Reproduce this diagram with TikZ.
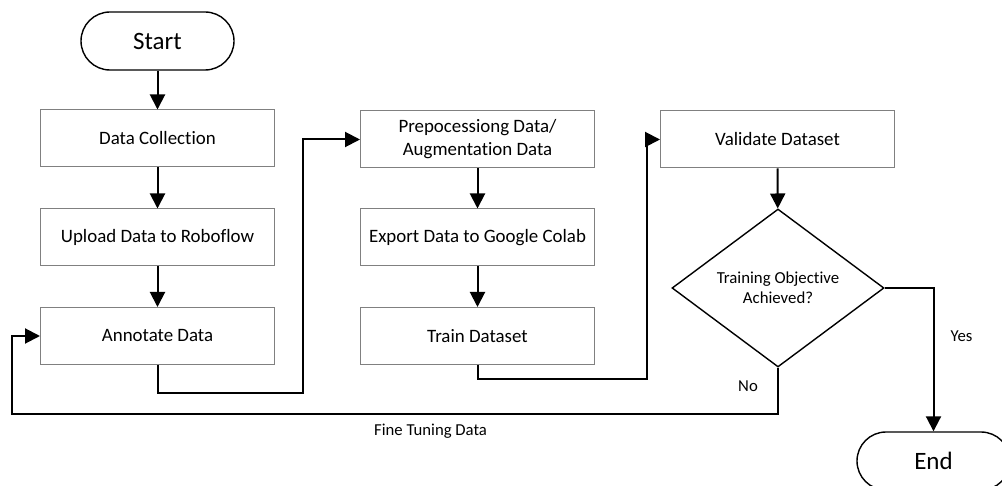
\documentclass[tikz,border=0pt]{standalone}
\usepackage{fontspec}
\setmainfont{Carlito}[Ligatures=NoCommon]
\usetikzlibrary{arrows.meta,shapes.geometric}
\begin{document}
\begin{tikzpicture}[x=1pt,y=-1pt,
  terminal/.style={draw=black,line width=1.4pt,rounded corners=29pt,
    minimum width=153pt,minimum height=58pt,inner sep=0pt,
    font=\fontsize{25}{30}\selectfont},
  stepbox/.style={draw=black!50,line width=1pt,minimum width=234pt,
    minimum height=57pt,inner sep=0pt,align=center,
    font=\fontsize{18.9}{23}\selectfont},
  decision/.style={diamond,draw=black,line width=1.4pt,minimum width=212pt,
    minimum height=158pt,inner sep=0pt,align=center,
    font=\fontsize{16.8}{20}\selectfont},
  lbl/.style={inner sep=0pt,font=\fontsize{16.7}{20}\selectfont},
  flow/.style={line width=2pt,-{Triangle[width=15pt,length=15pt]}},
]
\useasboundingbox (0,0) rectangle (1002,486);
\clip (0,0) rectangle (1002,486);
\fill[white] (0,0) rectangle (1002,486);

% process steps
\node[terminal] (start) at (157.5,41) {Start};
\node[stepbox] (dc) at (157.5,138.5) {Data Collection};
\node[stepbox] (up) at (157.5,237.5) {Upload Data to Roboflow};
\node[stepbox] (an) at (157.5,336) {Annotate Data};
\node[stepbox] (pre) at (477.5,139.5) {Prepocessiong Data/\\Augmentation Data};
\node[stepbox] (ex) at (477.5,237.5) {Export Data to Google Colab};
\node[stepbox] (tr) at (477.5,336) {Train Dataset};
\node[stepbox] (va) at (777.5,139.5) {Validate Dataset};
\node[decision] (dec) at (778,288) {Training Objective\\Achieved?};
\node[terminal] (end) at (933.5,461) {End};

% bends of the routed connectors
\coordinate (j1) at (303,393);
\coordinate (j2) at (647,379);
\coordinate (j3) at (12,414);

% connectors
\draw[flow] (start) -- (dc);
\draw[flow] (dc) -- (up);
\draw[flow] (up) -- (an);
\draw[flow] (an.south) |- (j1) |- (pre.west);
\draw[flow] (pre) -- (ex);
\draw[flow] (ex) -- (tr);
\draw[flow] (tr.south) |- (j2) |- (va.west);
\draw[flow] (va) -- (dec);
\draw[flow] (dec.east) -| (end.north);
\draw[flow] (dec.south) |- (j3) |- (an.west);

% labels
\node[lbl] (yes) at (961.5,336) {Yes};
\node[lbl] (no) at (748,386) {No};
\node[lbl,anchor=west] (ft) at (374,431) {Fine Tuning Data};
\end{tikzpicture}
\end{document}
